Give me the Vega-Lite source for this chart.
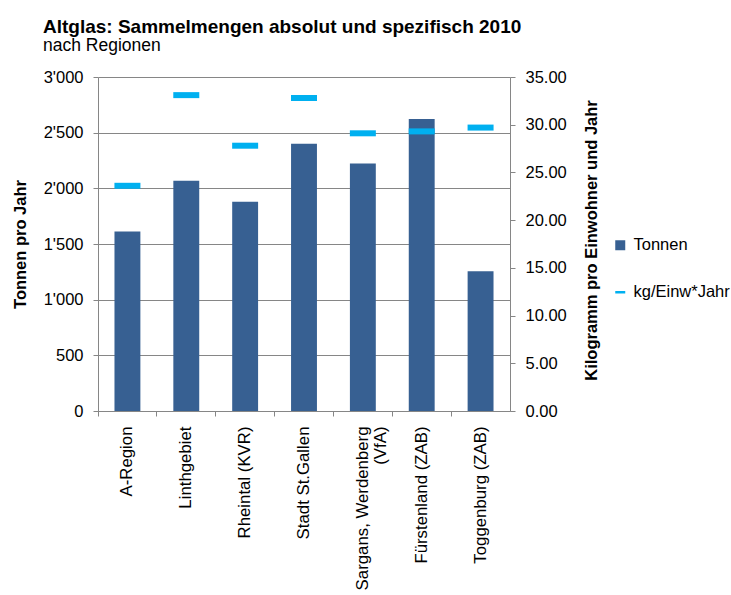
{
  "$schema": "https://vega.github.io/schema/vega-lite/v6.json",
  "width": 412,
  "height": 334,
  "autosize": {"type": "none"},
  "padding": {"left": 98, "top": 77, "right": 221, "bottom": 184},
  "background": "white",
  "title": {
    "text": "Altglas: Sammelmengen absolut und spezifisch 2010",
    "subtitle": "nach Regionen",
    "anchor": "start",
    "frame": "group",
    "dx": -55,
    "offset": 15,
    "font": "Liberation Sans",
    "fontSize": 19,
    "fontWeight": "bold",
    "color": "#000000",
    "subtitleFont": "Liberation Sans",
    "subtitleFontSize": 17.5,
    "subtitleColor": "#000000",
    "subtitlePadding": 0
  },
  "config": {
    "view": {"stroke": null},
    "font": "Liberation Sans",
    "axis": {
      "labelFont": "Liberation Sans",
      "labelFontSize": 16.5,
      "labelColor": "#000000",
      "titleFont": "Liberation Sans",
      "titleFontSize": 16.5,
      "titleColor": "#000000",
      "titleFontWeight": "bold",
      "domainColor": "#868686",
      "tickColor": "#868686",
      "gridColor": "#868686",
      "gridOpacity": 1,
      "tickSize": 5,
      "labelOverlap": false
    }
  },
  "data": {
    "values": [
      {"region": "A-Region", "tonnen": 1612, "kg": 23.6},
      {"region": "Linthgebiet", "tonnen": 2068, "kg": 33.1},
      {"region": "Rheintal (KVR)", "tonnen": 1879, "kg": 27.8},
      {"region": "Stadt St.Gallen", "tonnen": 2400, "kg": 32.8},
      {"region": "Sargans, Werdenberg (VfA)", "tonnen": 2224, "kg": 29.1},
      {"region": "Fürstenland (ZAB)", "tonnen": 2622, "kg": 29.3},
      {"region": "Toggenburg (ZAB)", "tonnen": 1256, "kg": 29.7}
    ]
  },
  "layer": [
    {
      "mark": {"type": "bar", "width": {"band": 0.44}},
      "encoding": {
        "x": {
          "field": "region",
          "type": "nominal",
          "sort": null,
          "scale": {"paddingInner": 0, "paddingOuter": 0},
          "axis": {
            "title": null,
            "labelAngle": -90,
            "labelAlign": "right",
            "labelBaseline": "middle",
            "labelPadding": 10,
            "labelFontSize": 16.8,
            "bandPosition": 0,
            "labelLimit": 400,
            "labelLineHeight": 18,
            "labelFlush": false,
            "grid": false,
            "labelExpr": "datum.value == 'Sargans, Werdenberg (VfA)' ? ['Sargans, Werdenberg', '(VfA)\u00a0\u00a0\u00a0\u00a0\u00a0\u00a0\u00a0\u00a0\u00a0\u00a0\u00a0\u00a0\u00a0\u00a0'] : datum.value"
          }
        },
        "y": {
          "field": "tonnen",
          "type": "quantitative",
          "scale": {"domain": [0, 3000], "nice": false},
          "axis": {
            "title": "Tonnen pro Jahr",
            "values": [0, 500, 1000, 1500, 2000, 2500, 3000],
            "grid": true,
            "labelPadding": 10,
            "labelExpr": "replace(format(datum.value, ','), ',', \"'\")",
            "titleAngle": -90,
            "titleX": -78,
            "titleY": 167,
            "titleAlign": "center",
            "titleBaseline": "middle"
          }
        },
        "color": {
          "datum": "Tonnen",
          "scale": {"domain": ["Tonnen", "kg/Einw*Jahr"], "range": ["#376092", "#00B0F0"]},
          "legend": {
            "title": null,
            "orient": "none",
            "legendX": 514,
            "legendY": 160,
            "padding": 0,
            "labelFont": "Liberation Sans",
            "labelFontSize": 16.5,
            "labelColor": "#000000",
            "rowPadding": 30,
            "symbolSize": 100,
            "labelOffset": 5,
            "encode": {
              "symbols": {
                "update": {
                  "shape": {"signal": "datum.value === 'Tonnen' ? 'square' : 'M-1,-0.25H1V0.25H-1Z'"},
                  "strokeWidth": {"value": 0}
                }
              }
            }
          }
        }
      }
    },
    {
      "mark": {"type": "tick", "size": 26, "thickness": 6, "opacity": 1},
      "encoding": {
        "x": {"field": "region", "type": "nominal", "sort": null},
        "y": {
          "field": "kg",
          "type": "quantitative",
          "scale": {"domain": [0, 35], "nice": false},
          "axis": {
            "orient": "right",
            "title": "Kilogramm pro Einwohner und Jahr",
            "values": [0, 5, 10, 15, 20, 25, 30, 35],
            "format": ".2f",
            "grid": false,
            "labelPadding": 10,
            "titleAngle": -90,
            "titleX": 81,
            "titleY": 163,
            "titleAlign": "center",
            "titleBaseline": "middle"
          }
        },
        "color": {"datum": "kg/Einw*Jahr"}
      }
    }
  ],
  "resolve": {"scale": {"y": "independent"}}
}
